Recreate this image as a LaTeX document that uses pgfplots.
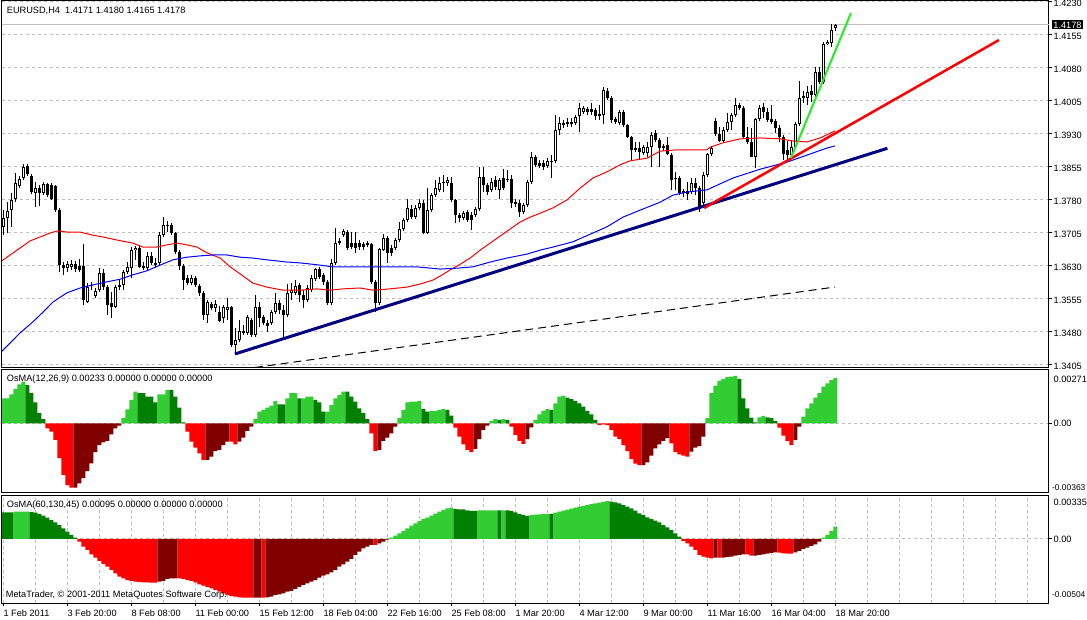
\documentclass[border=0pt]{standalone}
\usepackage{fontspec}
\setmainfont{Liberation Sans}
\usepackage{pgfplots}
\usepackage{pgfplotstable}
\pgfplotsset{compat=1.18}
\definecolor{lg}{HTML}{32CD32}
\definecolor{dg}{HTML}{008000}
\definecolor{rd}{HTML}{FF0000}
\definecolor{dr}{HTML}{800000}
\definecolor{navyc}{HTML}{000080}
\definecolor{gridc}{HTML}{C0C0C0}
\definecolor{limec}{HTML}{22EE22}
\newcommand\mtf{\fontsize{9.2}{11}\selectfont}
\newcommand\mts{\fontsize{8.4}{10}\selectfont}

\pgfplotstableread{
i O H L C
0 1.3719 1.3757 1.3700 1.3739
1 1.3739 1.3775 1.3705 1.3755
2 1.3757 1.3796 1.3719 1.3780
3 1.3782 1.3841 1.3775 1.3819
4 1.3812 1.3835 1.3807 1.3828
5 1.3830 1.3862 1.3825 1.3855
6 1.3857 1.3862 1.3835 1.3839
7 1.3835 1.3839 1.3794 1.3798
8 1.3796 1.3821 1.3764 1.3807
9 1.3807 1.3814 1.3766 1.3796
10 1.3796 1.3821 1.3791 1.3816
11 1.3816 1.3819 1.3787 1.3791
12 1.3814 1.3819 1.3780 1.3782
13 1.3812 1.3814 1.3753 1.3757
14 1.3757 1.3762 1.3616 1.3632
15 1.3632 1.3639 1.3610 1.3625
16 1.3625 1.3641 1.3616 1.3635
17 1.3628 1.3644 1.3621 1.3635
18 1.3635 1.3641 1.3616 1.3623
19 1.3630 1.3646 1.3616 1.3621
20 1.3630 1.3680 1.3541 1.3553
21 1.3548 1.3591 1.3546 1.3582
22 1.3585 1.3594 1.3575 1.3587
23 1.3562 1.3580 1.3557 1.3573
24 1.3575 1.3625 1.3571 1.3614
25 1.3614 1.3623 1.3575 1.3582
26 1.3582 1.3587 1.3519 1.3541
27 1.3546 1.3571 1.3512 1.3537
28 1.3537 1.3587 1.3535 1.3582
29 1.3582 1.3598 1.3575 1.3587
30 1.3587 1.3621 1.3575 1.3616
31 1.3616 1.3639 1.3612 1.3628
32 1.3625 1.3673 1.3603 1.3666
33 1.3666 1.3675 1.3644 1.3671
34 1.3671 1.3678 1.3625 1.3628
35 1.3630 1.3639 1.3621 1.3625
36 1.3625 1.3662 1.3621 1.3653
37 1.3653 1.3662 1.3632 1.3637
38 1.3637 1.3648 1.3625 1.3632
39 1.3637 1.3707 1.3632 1.3700
40 1.3700 1.3741 1.3696 1.3723
41 1.3721 1.3732 1.3707 1.3723
42 1.3723 1.3728 1.3700 1.3705
43 1.3705 1.3707 1.3657 1.3662
44 1.3662 1.3666 1.3621 1.3630
45 1.3630 1.3635 1.3575 1.3598
46 1.3603 1.3610 1.3587 1.3591
47 1.3591 1.3610 1.3587 1.3603
48 1.3603 1.3607 1.3582 1.3587
49 1.3585 1.3589 1.3562 1.3569
50 1.3569 1.3573 1.3507 1.3519
51 1.3519 1.3553 1.3500 1.3548
52 1.3544 1.3548 1.3530 1.3535
53 1.3535 1.3553 1.3525 1.3544
54 1.3525 1.3539 1.3503 1.3505
55 1.3512 1.3541 1.3500 1.3537
56 1.3530 1.3557 1.3507 1.3537
57 1.3537 1.3539 1.3446 1.3450
58 1.3450 1.3489 1.3432 1.3462
59 1.3462 1.3507 1.3457 1.3482
60 1.3478 1.3496 1.3473 1.3482
61 1.3478 1.3519 1.3473 1.3514
62 1.3507 1.3512 1.3469 1.3473
63 1.3473 1.3564 1.3469 1.3537
64 1.3537 1.3548 1.3491 1.3512
65 1.3514 1.3519 1.3496 1.3500
66 1.3500 1.3507 1.3480 1.3494
67 1.3500 1.3530 1.3496 1.3525
68 1.3525 1.3569 1.3521 1.3546
69 1.3546 1.3553 1.3521 1.3530
70 1.3530 1.3541 1.3466 1.3519
71 1.3519 1.3589 1.3514 1.3569
72 1.3569 1.3591 1.3553 1.3575
73 1.3569 1.3598 1.3564 1.3585
74 1.3587 1.3591 1.3548 1.3564
75 1.3564 1.3575 1.3535 1.3553
76 1.3553 1.3587 1.3548 1.3580
77 1.3575 1.3610 1.3571 1.3603
78 1.3600 1.3625 1.3596 1.3623
79 1.3623 1.3628 1.3600 1.3605
80 1.3610 1.3614 1.3587 1.3594
81 1.3594 1.3598 1.3541 1.3546
82 1.3546 1.3646 1.3541 1.3637
83 1.3637 1.3716 1.3632 1.3682
84 1.3682 1.3694 1.3678 1.3687
85 1.3700 1.3714 1.3696 1.3710
86 1.3707 1.3712 1.3666 1.3671
87 1.3682 1.3707 1.3669 1.3673
88 1.3682 1.3707 1.3660 1.3671
89 1.3682 1.3689 1.3666 1.3673
90 1.3680 1.3684 1.3666 1.3673
91 1.3678 1.3687 1.3673 1.3682
92 1.3680 1.3682 1.3589 1.3594
93 1.3594 1.3598 1.3525 1.3546
94 1.3546 1.3671 1.3541 1.3669
95 1.3666 1.3703 1.3664 1.3694
96 1.3694 1.3698 1.3637 1.3660
97 1.3671 1.3678 1.3653 1.3660
98 1.3671 1.3694 1.3666 1.3689
99 1.3689 1.3730 1.3685 1.3714
100 1.3714 1.3739 1.3710 1.3735
101 1.3735 1.3782 1.3730 1.3762
102 1.3760 1.3769 1.3737 1.3741
103 1.3741 1.3769 1.3737 1.3762
104 1.3762 1.3782 1.3757 1.3773
105 1.3773 1.3780 1.3703 1.3705
106 1.3705 1.3807 1.3703 1.3757
107 1.3757 1.3796 1.3753 1.3791
108 1.3791 1.3825 1.3787 1.3807
109 1.3803 1.3832 1.3798 1.3819
110 1.3819 1.3837 1.3798 1.3821
111 1.3819 1.3832 1.3812 1.3825
112 1.3819 1.3832 1.3775 1.3780
113 1.3780 1.3782 1.3728 1.3746
114 1.3746 1.3750 1.3730 1.3739
115 1.3739 1.3755 1.3734 1.3750
116 1.3753 1.3757 1.3730 1.3734
117 1.3746 1.3753 1.3712 1.3734
118 1.3746 1.3764 1.3741 1.3760
119 1.3760 1.3855 1.3755 1.3832
120 1.3832 1.3855 1.3798 1.3814
121 1.3814 1.3819 1.3791 1.3798
122 1.3803 1.3830 1.3798 1.3821
123 1.3825 1.3835 1.3803 1.3809
124 1.3803 1.3830 1.3782 1.3825
125 1.3830 1.3850 1.3803 1.3807
126 1.3825 1.3848 1.3821 1.3828
127 1.3828 1.3837 1.3762 1.3773
128 1.3775 1.3782 1.3764 1.3771
129 1.3773 1.3780 1.3741 1.3753
130 1.3753 1.3773 1.3748 1.3769
131 1.3769 1.3825 1.3764 1.3821
132 1.3821 1.3889 1.3816 1.3878
133 1.3878 1.3882 1.3855 1.3860
134 1.3864 1.3871 1.3853 1.3857
135 1.3864 1.3871 1.3848 1.3855
136 1.3857 1.3875 1.3853 1.3868
137 1.3866 1.3882 1.3830 1.3868
138 1.3868 1.3973 1.3864 1.3939
139 1.3939 1.3969 1.3928 1.3955
140 1.3955 1.3962 1.3944 1.3950
141 1.3953 1.3966 1.3946 1.3957
142 1.3957 1.3966 1.3946 1.3953
143 1.3955 1.3973 1.3950 1.3969
144 1.3971 1.4000 1.3935 1.3989
145 1.3980 1.3994 1.3975 1.3989
146 1.3987 1.3991 1.3973 1.3980
147 1.3987 1.4000 1.3973 1.3980
148 1.3985 1.3989 1.3962 1.3971
149 1.3971 1.3996 1.3962 1.3975
150 1.3973 1.4037 1.3953 1.4030
151 1.4028 1.4034 1.4007 1.4012
152 1.4012 1.4016 1.3955 1.3962
153 1.3964 1.3969 1.3953 1.3957
154 1.3955 1.3985 1.3950 1.3980
155 1.3980 1.3985 1.3946 1.3950
156 1.3950 1.3953 1.3921 1.3923
157 1.3923 1.3925 1.3871 1.3894
158 1.3894 1.3912 1.3889 1.3898
159 1.3898 1.3912 1.3871 1.3889
160 1.3887 1.3905 1.3882 1.3900
161 1.3887 1.3912 1.3878 1.3900
162 1.3900 1.3935 1.3855 1.3928
163 1.3932 1.3939 1.3912 1.3916
164 1.3916 1.3921 1.3855 1.3898
165 1.3903 1.3907 1.3891 1.3898
166 1.3905 1.3923 1.3882 1.3884
167 1.3882 1.3887 1.3803 1.3825
168 1.3830 1.3843 1.3803 1.3828
169 1.3830 1.3835 1.3791 1.3796
170 1.3796 1.3805 1.3787 1.3800
171 1.3800 1.3821 1.3780 1.3794
172 1.3798 1.3830 1.3794 1.3819
173 1.3819 1.3830 1.3791 1.3807
174 1.3807 1.3812 1.3753 1.3762
175 1.3773 1.3843 1.3762 1.3837
176 1.3837 1.3887 1.3832 1.3885
177 1.3885 1.3903 1.3880 1.3898
178 1.3959 1.3966 1.3925 1.3930
179 1.3930 1.3946 1.3912 1.3914
180 1.3914 1.3946 1.3909 1.3939
181 1.3939 1.3978 1.3935 1.3957
182 1.3957 1.3978 1.3939 1.3973
183 1.3973 1.4012 1.3969 1.3996
184 1.3996 1.4000 1.3985 1.3989
185 1.3989 1.3994 1.3921 1.3923
186 1.3923 1.3946 1.3907 1.3912
187 1.3912 1.3944 1.3878 1.3878
188 1.3878 1.3966 1.3853 1.3964
189 1.3964 1.3996 1.3959 1.3989
190 1.3991 1.4000 1.3966 1.3980
191 1.3980 1.3989 1.3957 1.3962
192 1.3964 1.3996 1.3953 1.3957
193 1.3959 1.3964 1.3932 1.3944
194 1.3944 1.3950 1.3912 1.3923
195 1.3923 1.3928 1.3871 1.3884
196 1.3894 1.3914 1.3871 1.3882
197 1.3882 1.3916 1.3875 1.3900
198 1.3900 1.3957 1.3896 1.3953
199 1.3953 1.4050 1.3948 1.4012
200 1.4012 1.4028 1.4000 1.4016
201 1.4012 1.4039 1.3996 1.4025
202 1.4028 1.4041 1.4003 1.4019
203 1.4019 1.4082 1.4014 1.4071
204 1.4071 1.4082 1.4044 1.4048
205 1.4048 1.4139 1.4044 1.4134
206 1.4134 1.4143 1.4132 1.4139
207 1.4137 1.4180 1.4128 1.4166
208 1.4171 1.4180 1.4165 1.4178
}\candles

\pgfplotstableread{
i v c
0 0.00129 1
1 0.00129 1
2 0.00149 1
3 0.00177 1
4 0.00201 1
5 0.00215 1
6 0.00197 2
7 0.00155 2
8 0.00108 2
9 0.00052 2
10 0.00022 2
11 -0.00026 3
12 -0.00043 3
13 -0.00086 3
14 -0.00180 3
15 -0.00266 3
16 -0.00318 3
17 -0.00331 3
18 -0.00331 4
19 -0.00309 4
20 -0.00283 4
21 -0.00246 4
22 -0.00206 4
23 -0.00149 4
24 -0.00112 4
25 -0.00098 4
26 -0.00091 4
27 -0.00057 4
28 -0.00026 4
29 -0.00012 4
30 0.00026 1
31 0.00072 1
32 0.00120 1
33 0.00163 1
34 0.00155 2
35 0.00155 2
36 0.00137 2
37 0.00137 2
38 0.00108 2
39 0.00149 1
40 0.00149 1
41 0.00172 1
42 0.00172 2
43 0.00137 2
44 0.00081 2
45 0.00005 2
46 -0.00043 3
47 -0.00094 3
48 -0.00125 3
49 -0.00155 3
50 -0.00189 3
51 -0.00189 4
52 -0.00172 4
53 -0.00143 4
54 -0.00137 4
55 -0.00112 4
56 -0.00094 4
57 -0.00094 3
58 -0.00108 3
59 -0.00094 4
60 -0.00074 4
61 -0.00039 4
62 -0.00017 4
63 0.00022 1
64 0.00060 1
65 0.00069 1
66 0.00081 1
67 0.00091 1
68 0.00115 1
69 0.00098 2
70 0.00098 2
71 0.00129 1
72 0.00155 1
73 0.00155 1
74 0.00129 2
75 0.00129 1
76 0.00137 1
77 0.00137 1
78 0.00120 2
79 0.00108 2
80 0.00060 2
81 0.00060 1
82 0.00094 1
83 0.00129 1
84 0.00146 1
85 0.00163 1
86 0.00163 2
87 0.00137 2
88 0.00112 2
89 0.00077 2
90 0.00052 2
91 0.00022 2
92 -0.00052 3
93 -0.00143 3
94 -0.00137 4
95 -0.00091 4
96 -0.00074 4
97 -0.00052 4
98 -0.00017 4
99 0.00026 1
100 0.00069 1
101 0.00108 1
102 0.00112 1
103 0.00112 1
104 0.00115 1
105 0.00074 2
106 0.00060 2
107 0.00064 1
108 0.00064 1
109 0.00069 1
110 0.00074 1
111 0.00069 2
112 0.00039 2
113 -0.00022 3
114 -0.00069 3
115 -0.00108 3
116 -0.00137 3
117 -0.00149 3
118 -0.00132 4
119 -0.00081 4
120 -0.00034 4
121 -0.00012 4
122 0.00012 1
123 0.00022 1
124 0.00017 2
125 0.00022 1
126 0.00017 2
127 -0.00017 3
128 -0.00060 3
129 -0.00091 3
130 -0.00106 3
131 -0.00081 4
132 -0.00021 4
133 0.00017 1
134 0.00046 1
135 0.00064 1
136 0.00074 1
137 0.00069 2
138 0.00103 1
139 0.00137 1
140 0.00143 1
141 0.00132 2
142 0.00125 2
143 0.00115 2
144 0.00103 2
145 0.00086 2
146 0.00064 2
147 0.00046 2
148 0.00017 2
149 -0.00009 3
150 -0.00005 3
151 -0.00009 3
152 -0.00034 3
153 -0.00069 3
154 -0.00081 3
155 -0.00112 3
156 -0.00143 3
157 -0.00184 3
158 -0.00208 3
159 -0.00215 3
160 -0.00215 4
161 -0.00201 4
162 -0.00167 4
163 -0.00129 4
164 -0.00108 4
165 -0.00091 4
166 -0.00077 4
167 -0.00103 3
168 -0.00149 3
169 -0.00160 3
170 -0.00167 3
171 -0.00172 3
172 -0.00146 4
173 -0.00125 4
174 -0.00117 4
175 -0.00069 4
176 0.00026 1
177 0.00155 1
178 0.00194 1
179 0.00218 1
180 0.00228 1
181 0.00239 1
182 0.00240 1
183 0.00244 1
184 0.00228 2
185 0.00129 2
186 0.00077 2
187 0.00029 2
188 0.00005 2
189 0.00031 1
190 0.00038 1
191 0.00031 2
192 0.00026 2
193 0.00012 2
194 -0.00022 3
195 -0.00064 3
196 -0.00091 3
197 -0.00112 3
198 -0.00086 4
199 -0.00017 4
200 0.00034 1
201 0.00077 1
202 0.00103 1
203 0.00132 1
204 0.00155 1
205 0.00189 1
206 0.00206 1
207 0.00223 1
208 0.00233 1
}\osmaA

\pgfplotstableread{
i v c
0 0.00207 2
1 0.00207 2
2 0.00207 2
3 0.00212 1
4 0.00212 1
5 0.00212 1
6 0.00212 1
7 0.00209 2
8 0.00204 2
9 0.00194 2
10 0.00181 2
11 0.00165 2
12 0.00147 2
13 0.00129 2
14 0.00108 2
15 0.00083 2
16 0.00057 2
17 0.00031 2
18 0.00010 2
19 -0.00021 3
20 -0.00059 3
21 -0.00085 3
22 -0.00119 3
23 -0.00145 3
24 -0.00170 3
25 -0.00194 3
26 -0.00214 3
27 -0.00240 3
28 -0.00266 3
29 -0.00292 3
30 -0.00305 3
31 -0.00318 3
32 -0.00325 3
33 -0.00331 3
34 -0.00333 3
35 -0.00336 3
36 -0.00336 3
37 -0.00338 3
38 -0.00338 3
39 -0.00331 4
40 -0.00325 4
41 -0.00310 4
42 -0.00305 4
43 -0.00305 4
44 -0.00305 3
45 -0.00310 3
46 -0.00318 3
47 -0.00325 3
48 -0.00336 3
49 -0.00351 3
50 -0.00362 3
51 -0.00372 3
52 -0.00382 3
53 -0.00395 3
54 -0.00408 3
55 -0.00421 3
56 -0.00434 3
57 -0.00442 3
58 -0.00447 3
59 -0.00452 3
60 -0.00455 3
61 -0.00455 3
62 -0.00455 3
63 -0.00455 4
64 -0.00455 4
65 -0.00455 3
66 -0.00452 4
67 -0.00447 4
68 -0.00434 4
69 -0.00429 4
70 -0.00421 4
71 -0.00408 4
72 -0.00403 4
73 -0.00387 4
74 -0.00372 4
75 -0.00356 4
76 -0.00344 4
77 -0.00331 4
78 -0.00318 4
79 -0.00300 4
80 -0.00284 4
81 -0.00274 4
82 -0.00258 4
83 -0.00240 4
84 -0.00214 4
85 -0.00196 4
86 -0.00176 4
87 -0.00155 4
88 -0.00124 4
89 -0.00098 4
90 -0.00072 4
91 -0.00059 4
92 -0.00046 4
93 -0.00046 3
94 -0.00034 4
95 -0.00021 4
96 -0.00005 4
97 0.00010 1
98 0.00026 1
99 0.00044 1
100 0.00062 1
101 0.00083 1
102 0.00103 1
103 0.00121 1
104 0.00139 1
105 0.00155 1
106 0.00165 1
107 0.00181 1
108 0.00196 1
109 0.00212 1
110 0.00225 1
111 0.00238 1
112 0.00243 1
113 0.00232 2
114 0.00230 2
115 0.00230 2
116 0.00222 2
117 0.00217 2
118 0.00217 2
119 0.00222 1
120 0.00222 1
121 0.00222 1
122 0.00222 1
123 0.00222 1
124 0.00222 2
125 0.00222 1
126 0.00222 2
127 0.00217 2
128 0.00207 2
129 0.00194 2
130 0.00186 2
131 0.00178 2
132 0.00186 1
133 0.00189 1
134 0.00191 1
135 0.00194 1
136 0.00194 1
137 0.00194 2
138 0.00204 1
139 0.00212 1
140 0.00220 1
141 0.00227 1
142 0.00235 1
143 0.00243 1
144 0.00251 1
145 0.00256 1
146 0.00263 1
147 0.00271 1
148 0.00276 1
149 0.00282 1
150 0.00287 1
151 0.00294 1
152 0.00289 2
153 0.00284 2
154 0.00276 2
155 0.00263 2
156 0.00251 2
157 0.00238 2
158 0.00220 2
159 0.00199 2
160 0.00186 2
161 0.00168 2
162 0.00155 2
163 0.00142 2
164 0.00129 2
165 0.00108 2
166 0.00090 2
167 0.00070 2
168 0.00044 2
169 0.00018 2
170 -0.00015 3
171 -0.00034 3
172 -0.00059 3
173 -0.00085 3
174 -0.00124 3
175 -0.00137 3
176 -0.00145 3
177 -0.00150 3
178 -0.00145 4
179 -0.00145 3
180 -0.00145 4
181 -0.00139 4
182 -0.00137 4
183 -0.00129 4
184 -0.00124 4
185 -0.00119 4
186 -0.00119 3
187 -0.00129 3
188 -0.00129 4
189 -0.00124 4
190 -0.00119 4
191 -0.00114 4
192 -0.00108 4
193 -0.00103 4
194 -0.00106 3
195 -0.00111 3
196 -0.00114 3
197 -0.00114 3
198 -0.00103 4
199 -0.00093 4
200 -0.00077 4
201 -0.00067 4
202 -0.00054 4
203 -0.00041 4
204 -0.00021 4
205 0.00010 1
206 0.00031 1
207 0.00062 1
208 0.00095 1
}\osmaB

\pgfplotsset{
  mt/.style={
    scale only axis, width=1047pt, xmin=-0.33, xmax=261.4,
    scaled ticks=false, scaled x ticks=false, scaled y ticks=false,
    axis line style={black, line width=1pt},
    tick align=outside,
    ytick pos=right, yticklabel pos=right,
    major tick length=3pt, minor tick length=0pt,
    tick style={black, line width=1pt},
    tick label style={font=\mtf},
    yticklabel style={anchor=west, inner sep=0pt, xshift=1.5pt},
    grid style={gridc, line width=1pt, dash pattern=on 3pt off 3pt},
    major grid style={gridc, line width=1pt, dash pattern=on 3pt off 3pt},
    minor grid style={gridc, line width=1pt, dash pattern=on 3pt off 3pt},
    clip mode=individual,
  },
  upper/.style={
    xtick=\empty, xticklabels={},
    minor xtick={8,16,24,32,40,48,56,64,72,80,88,96,104,112,120,128,136,144,152,160,168,176,184,192,200,208,216,224,232,240,248,256},
    xminorgrids,
  },
  hist/.style 2 args={ybar, bar width=1, bar shift=0pt, fill=#1, draw=none, forget plot,
    restrict expr to domain={\thisrow{c}}{#2}},
}

\begin{document}
\begin{tikzpicture}
\useasboundingbox (0,0) rectangle (1087pt,620pt);

% ---------------- main price panel
\begin{axis}[mt, upper, at={(2pt,252.5pt)}, anchor=south west, height=367pt,
  ymin=1.33993, ymax=1.42334,
  ytick={1.3405,1.3480,1.3555,1.3630,1.3705,1.3780,1.3855,1.3930,1.4005,1.4080,1.4155,1.4230},
  yticklabels={1.3405,1.3480,1.3555,1.3630,1.3705,1.3780,1.3855,1.3930,1.4005,1.4080,1.4155,1.4230},
  yticklabel style={yshift=-1pt},
  ymajorgrids]
  % current price line
  \addplot[gridc, line width=1pt, forget plot] coordinates {(-1,1.4178) (262,1.4178)};
  % wicks
  \addplot[draw=none, mark=none, forget plot,
    error bars/.cd, y dir=plus, y explicit, error mark=none,
    error bar style={draw=black, line width=1pt}]
    table[x=i, y=L, y error expr={\thisrow{H}-\thisrow{L}}] {\candles};
  % bodies
  \addplot[draw=none, mark=none, forget plot,
    error bars/.cd, y dir=plus, y explicit, error mark=none,
    error bar style={draw=black, line width=3pt}]
    table[x=i, y expr={min(\thisrow{O},\thisrow{C})},
      y error expr={max(abs(\thisrow{C}-\thisrow{O}),0.00023)}] {\candles};
  % white interior of bull candles
  \addplot[draw=none, mark=none, forget plot,
    restrict expr to domain={\thisrow{C}-\thisrow{O}}{0.0005:1},
    error bars/.cd, y dir=plus, y explicit, error mark=none,
    error bar style={draw=white, line width=1pt}]
    table[x=i, y expr={\thisrow{O}+0.00023},
      y error expr={\thisrow{C}-\thisrow{O}-0.00046}] {\candles};
  % moving averages
  \addplot[rd, line width=1pt, mark=none] coordinates {
    (-0.8,1.3639) (1.7,1.3655) (4.2,1.3671) (6.7,1.3687) (9.2,1.3696) (11.7,1.3705)
    (13.7,1.3710) (15.9,1.3707) (19.2,1.3707) (22.4,1.3700) (24.9,1.3696) (28.4,1.3689)
    (32.4,1.3682) (34.9,1.3673) (38.4,1.3673) (40.9,1.3678) (43.4,1.3682) (45.9,1.3678)
    (48.4,1.3673) (50.9,1.3660) (54.2,1.3648) (56.7,1.3628) (59.2,1.3612) (62.4,1.3591)
    (65.9,1.3582) (69.9,1.3575) (74.2,1.3575) (78.4,1.3578) (81.7,1.3575) (84.9,1.3578)
    (89.2,1.3580) (92.4,1.3575) (96.7,1.3578) (100.9,1.3582) (104.2,1.3589) (107.4,1.3598)
    (109.2,1.3607) (111.7,1.3621) (114.2,1.3634) (116.7,1.3648) (119.2,1.3666) (121.7,1.3682)
    (124.2,1.3698) (126.7,1.3714) (129.2,1.3730) (131.7,1.3741) (134.2,1.3750) (137.4,1.3762)
    (140.9,1.3780) (144.2,1.3807) (147.4,1.3830) (150.9,1.3844) (154.2,1.3860) (156.7,1.3869)
    (160.9,1.3875) (164.2,1.3891) (168.4,1.3894) (175.9,1.3894) (176.7,1.3900) (179.9,1.3910)
    (184.2,1.3919) (189.2,1.3921) (194.2,1.3919) (197.4,1.3914) (200.9,1.3912) (204.2,1.3921)
    (207.9,1.3937)};
  \addplot[blue, line width=1pt, mark=none] coordinates {
    (-0.8,1.3432) (1.7,1.3455) (4.2,1.3478) (7.4,1.3503) (9.9,1.3525) (12.4,1.3548)
    (15.9,1.3569) (19.2,1.3580) (22.4,1.3587) (25.9,1.3594) (29.2,1.3600) (32.4,1.3610)
    (35.9,1.3619) (39.2,1.3632) (42.4,1.3644) (45.9,1.3650) (49.2,1.3653) (52.4,1.3655)
    (55.9,1.3655) (59.2,1.3650) (62.4,1.3648) (65.9,1.3644) (70.9,1.3639) (74.2,1.3637)
    (79.2,1.3632) (82.4,1.3628) (92.4,1.3628) (103.4,1.3628) (109.2,1.3623) (113.4,1.3625)
    (117.4,1.3628) (121.7,1.3639) (125.9,1.3648) (130.9,1.3657) (134.2,1.3666) (137.4,1.3673)
    (142.4,1.3685) (147.4,1.3705) (150.9,1.3719) (154.9,1.3741) (159.2,1.3757) (164.2,1.3775)
    (167.4,1.3791) (170.9,1.3798) (175.9,1.3803) (182.4,1.3830) (189.2,1.3850) (195.9,1.3866)
    (200.9,1.3882) (205.9,1.3898) (207.9,1.3903)};
  % trend lines
  \addplot[black, line width=1pt, dash pattern=on 8pt off 5pt, mark=none] coordinates {(50,1.3383) (207.9,1.35822)};
  \addplot[navyc, line width=3pt, mark=none] coordinates {(57.9,1.3430) (221,1.38975)};
  \addplot[rd, line width=2.5pt, mark=none] coordinates {(175.2,1.37618) (248.9,1.41436)};
  \addplot[limec, line width=2pt, mark=none] coordinates {(196.9,1.38754) (211.9,1.42050)};
  % labels
  \node[anchor=west, inner sep=0pt, font=\mtf] at (rel axis cs:0,1) [xshift=4.7pt, yshift=-10.2pt]
    {EURUSD,H4\ \ 1.4171 1.4180 1.4165 1.4178};
  \node[anchor=west, fill=black, text=white, inner sep=1.2pt, font=\mtf]
    at (axis cs:261.4,1.4178) [xshift=3pt] {1.4178};
\end{axis}

% ---------------- OsMA(12,26,9)
\begin{axis}[mt, upper, at={(2pt,127.5pt)}, anchor=south west, height=123pt,
  ymin=-0.003564, ymax=0.002771,
  ytick={0}, yticklabels={0.00}, ymajorgrids]
  \addplot[hist={lg}{0.5:1.5}] table[x=i, y=v] {\osmaA};
  \addplot[hist={dg}{1.5:2.5}] table[x=i, y=v] {\osmaA};
  \addplot[hist={rd}{2.5:3.5}] table[x=i, y=v] {\osmaA};
  \addplot[hist={dr}{3.5:4.5}] table[x=i, y=v] {\osmaA};
  \node[anchor=west, inner sep=0pt, font=\mtf] at (rel axis cs:0,1) [xshift=4.7pt, yshift=-9.8pt]
    {OsMA(12,26,9) 0.00233 0.00000 0.00000 0.00000};
  \node[anchor=west, inner sep=0pt, font=\mtf] at (rel axis cs:1,1) [xshift=4.5pt, yshift=-10pt] {0.00271};
  \node[anchor=west, inner sep=0pt, font=\mts] at (rel axis cs:1,0) [xshift=3pt, yshift=5pt] {-0.00363};
\end{axis}

% ---------------- OsMA(60,130,45)
\begin{axis}[mt, at={(2pt,16.7pt)}, anchor=south west, height=107.8pt,
  ymin=-0.004983, ymax=0.003371,
  ytick={0}, yticklabels={0.00}, ymajorgrids,
  xtick={0,16,32,48,64,80,96,112,128,144,160,176,192,208},
  xticklabels={1 Feb 2011,3 Feb 20:00,8 Feb 08:00,11 Feb 00:00,15 Feb 12:00,18 Feb 04:00,22 Feb 16:00,25 Feb 08:00,1 Mar 20:00,4 Mar 12:00,9 Mar 00:00,11 Mar 16:00,16 Mar 04:00,18 Mar 20:00},
  minor xtick={8,24,40,56,72,88,104,120,136,152,168,184,200,216,224,232,240,248,256},
  xmajorgrids, xminorgrids, xtick pos=bottom,
  xticklabel style={anchor=north west, inner sep=0pt, yshift=-3.5pt, xshift=0pt}]
  \addplot[hist={lg}{0.5:1.5}] table[x=i, y=v] {\osmaB};
  \addplot[hist={dg}{1.5:2.5}] table[x=i, y=v] {\osmaB};
  \addplot[hist={rd}{2.5:3.5}] table[x=i, y=v] {\osmaB};
  \addplot[hist={dr}{3.5:4.5}] table[x=i, y=v] {\osmaB};
  \node[anchor=west, inner sep=0pt, font=\mtf] at (rel axis cs:0,1) [xshift=4.7pt, yshift=-9.5pt]
    {OsMA(60,130,45) 0.00095 0.00000 0.00000 0.00000};
  \node[anchor=west, inner sep=0pt, font=\mtf] at (rel axis cs:0,0) [xshift=3.7pt, yshift=8.3pt]
    {MetaTrader, © 2001-2011 MetaQuotes Software Corp.};
  \node[anchor=west, inner sep=0pt, font=\mtf] at (rel axis cs:1,1) [xshift=4.5pt, yshift=-6.5pt] {0.00335};
  \node[anchor=west, inner sep=0pt, font=\mts] at (rel axis cs:1,0) [xshift=3pt, yshift=8.3pt] {-0.00504};
\end{axis}
\end{tikzpicture}
\end{document}
